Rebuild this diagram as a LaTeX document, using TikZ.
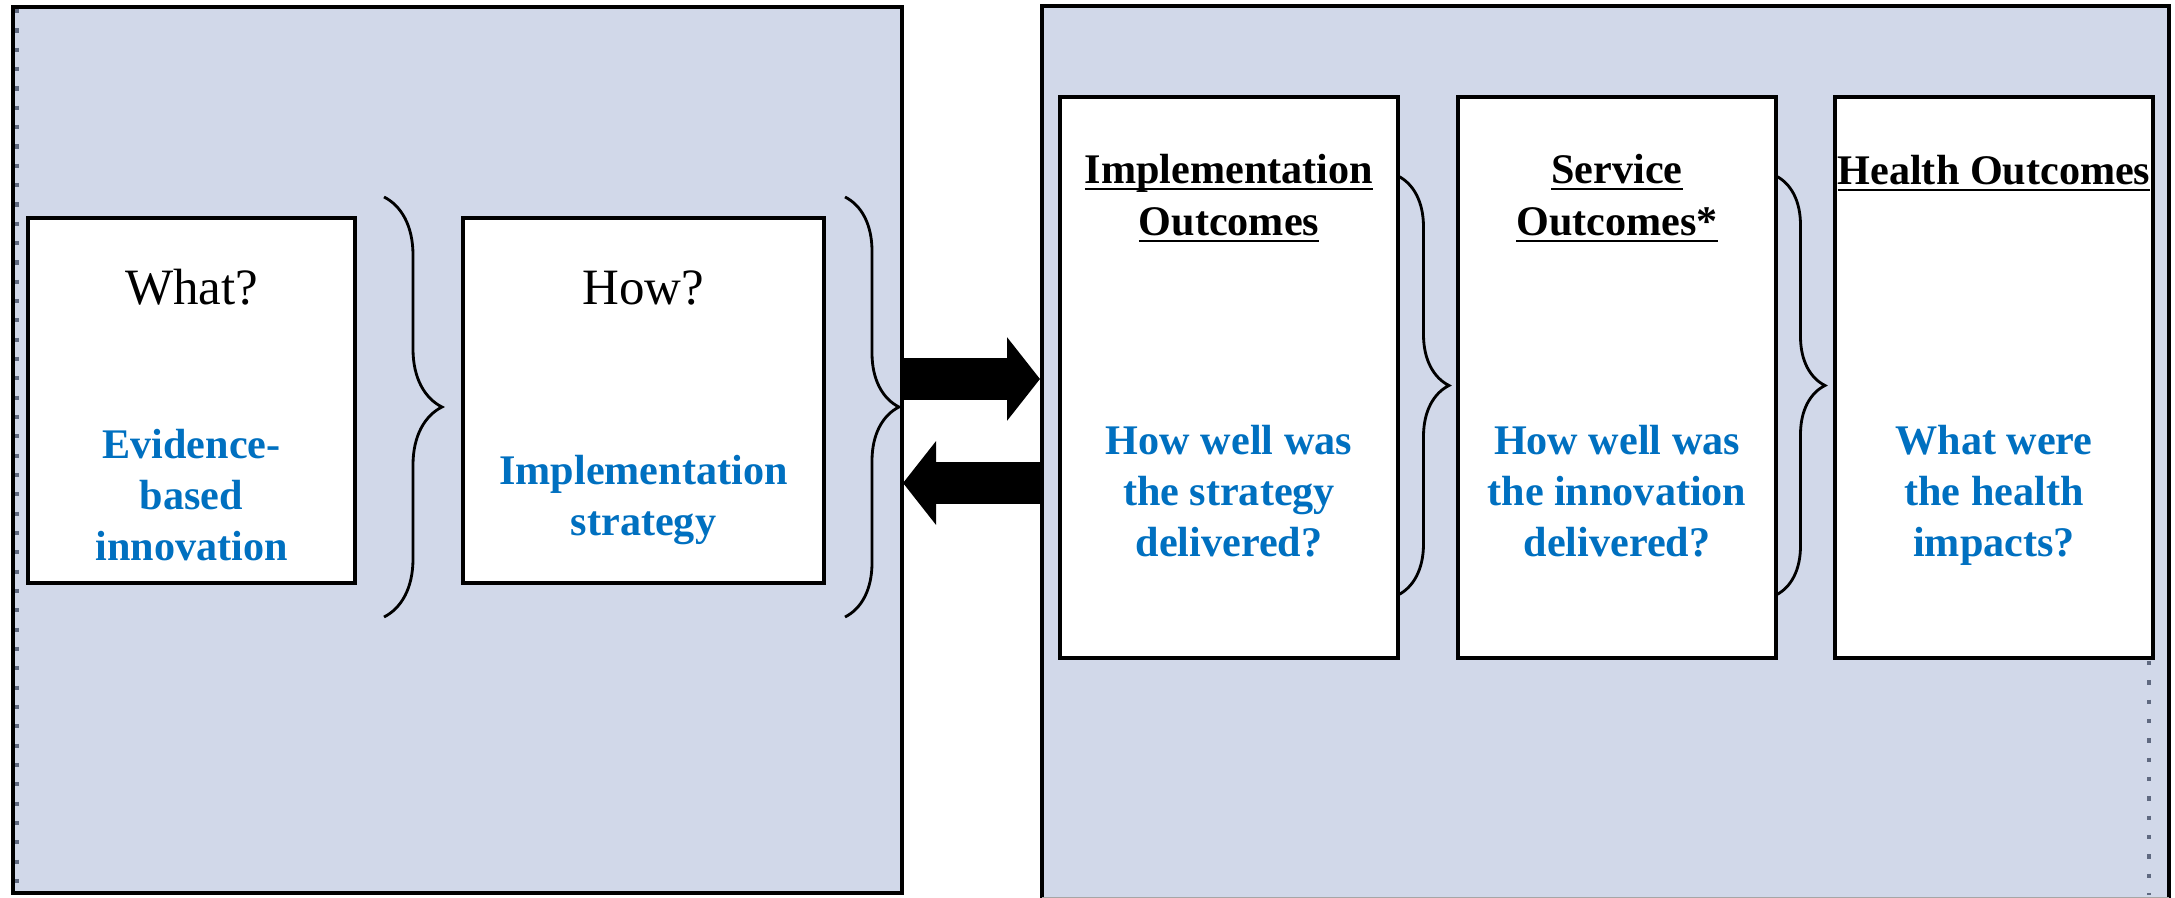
\documentclass[tikz,border=0pt]{standalone}
\usepackage{fontspec}
\setmainfont{Liberation Serif}
\usetikzlibrary{arrows.meta,decorations.pathreplacing,positioning}
\definecolor{panelfill}{RGB}{209,216,233}
\definecolor{qblue}{RGB}{0,112,192}
\definecolor{dotgray}{RGB}{95,105,128}
% underline at a fixed depth, through the descenders
\newcommand{\hul}[1]{\leavevmode\setbox0=\hbox{#1}\rlap{\rule[-1.9pt]{\wd0}{0.6pt}}\box0}

\begin{document}
\begin{tikzpicture}[
		panel/.style={fill=panelfill, inner sep=0pt},
		panelline/.style={line width=1.1pt},
		box/.style={draw, line width=1.1pt, fill=white, inner sep=0pt},
		ask/.style={font=\fontsize{14.5}{17}\selectfont, anchor=base},
		qtext/.style={text=qblue, font=\fontsize{12}{14.4}\selectfont\bfseries, align=center, anchor=base},
		head/.style={font=\fontsize{12}{14.6}\selectfont\bfseries, align=center, anchor=base},
		bracer/.style={decorate, decoration={brace, amplitude=#1}, line width=0.8pt},
		blockarrow/.style={line width=0.42cm, -{Triangle[length=0.33cm, width=0.82cm]}},
		dotline/.style={dotgray, line width=1.2pt, dash pattern=on 1.2pt off 4.3pt}
	]
			\useasboundingbox (0,0) rectangle (21.75,8.97);
			% the two panels
			\node[panel, draw, line width=1.1pt, minimum width=8.89cm, minimum height=8.86cm] (lpanel) at (4.575,4.47) {};
			\draw[dotline] (0.17,8.88) -- (0.17,0.06);
			\node[panel, minimum width=11.25cm, minimum height=8.90cm] (rpanel) at (16.055,4.45) {};
			\draw[panelline] (rpanel.south west) -- (rpanel.north west) -- (rpanel.north east) -- (rpanel.south east);
			\draw[gray!70, line width=0.4pt] (rpanel.south west) -- (rpanel.south east);
			\draw[dotline] (21.49,2.36) -- (21.49,0.02);
			% left boxes (base of a node = its last line)
			\node[box, minimum width=3.27cm, minimum height=3.65cm] (what) at (1.915,4.965) {};
			\node[box, minimum width=3.61cm, minimum height=3.65cm] (how) at (6.435,4.965) {};
			\node[ask] (whatq) at ([yshift=-0.88cm]what.north) {What?};
			\node[qtext] (whatt) at ([yshift=-3.44cm]what.north) {Evidence-\\based\\innovation};
			\node[ask] (howq) at ([yshift=-0.88cm]how.north) {How?};
			\node[qtext] (howt) at ([yshift=-3.19cm]how.north) {Implementation\\strategy};
			\draw[bracer=0.58cm] (3.84,7.00) -- (3.84,2.80);
			\draw[bracer=0.54cm] (8.45,7.00) -- (8.45,2.80);
			% right boxes
			\node[box, minimum width=3.38cm, minimum height=5.61cm] (implout) at (12.29,5.195) {};
			\node[box, minimum width=3.18cm, minimum height=5.61cm] (servout) at (16.17,5.195) {};
			\node[box, minimum width=3.18cm, minimum height=5.61cm] (healthout) at (19.94,5.195) {};
			\node[head] (implh) at ([yshift=-1.40cm]implout.north) {\hul{Implementation}\\\hul{Outcomes}};
			\node[head] (servh) at ([yshift=-1.40cm]servout.north) {\hul{Service}\\\hul{Outcomes*}};
			\node[head] (healthh) at ([yshift=-0.89cm]healthout.north) {\hul{Health Outcomes}};
			\node[qtext] (implt) at ([yshift=-4.61cm]implout.north) {How well was\\the strategy\\delivered?};
			\node[qtext] (servt) at ([yshift=-4.61cm]servout.north) {How well was\\the innovation\\delivered?};
			\node[qtext] (healtht) at ([yshift=-4.61cm]healthout.north) {What were\\the health\\impacts?};
			\draw[bracer=0.51cm] (13.98,7.21) -- (13.98,3.02);
			\draw[bracer=0.49cm] (17.76,7.21) -- (17.76,3.02);
			% arrows between panels
			\coordinate (rtip) at (10.40,5.18);
			\coordinate (ltip) at (9.03,4.14);
			\draw[blockarrow] (lpanel.east |- rtip) -- (rtip);
			\draw[blockarrow] (rpanel.west |- ltip) -- (ltip);
		\end{tikzpicture}
\end{document}
